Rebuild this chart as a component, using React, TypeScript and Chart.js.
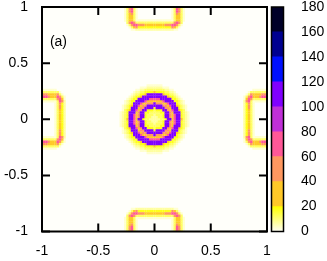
import React, { useEffect, useRef } from 'react';
import { Chart, registerables } from 'chart.js';

Chart.register(...registerables);

// ---- data ----
const STEP = 0.02; // grid spacing of the heat map cells (data units)
const xTickLabels = ['-1', '-0.5', '0', '0.5', '1'];
const yTickLabels = ['-1', '-0.5', '0', '0.5', '1'];
const cbBandEdges = [0, 20, 40, 60, 80, 100, 120, 140, 160, 180];
const cbBandColors = ['#ffff00', '#ffc828', '#ff9860', '#ff5898', '#c030d8', '#8000ff', '#0010ff', '#000090', '#000028'];
const levelChars = ['a', 'b', 'c', 'd', 'e', 'f', 'g', 'h', 'i', 'j'];
const levelValues = [3, 7, 12, 18, 30, 50, 70, 90, 110, 130];
const panelLabel = '(a)';
const panelLabelPos = [-0.93, 0.69];

// central feature, one quadrant: row j -> y = j*STEP, column i -> x = i*STEP
const centerQuadrant = [
  'bbbccdiiegiiecba.',
  'bbccdiifegiidcba.',
  'bcccdiifegiidcba.',
  'cccddiifeiiidcba.',
  'cdddiifegiiedca..',
  'diiiiffeiiidcba..',
  'iiiiffegiiedcba..',
  'ifffeegiiidcba...',
  'eeeegiiiiddcba...',
  'gggiiiiiddcba....',
  'iiiiiieddcba.....',
  'iiiieddccba......',
  'eddddccbba.......',
  'cccccbbaa........',
  'bbbbaaa..........',
  'aaaa.............',
  '.................',
];

// edge pocket, half: row k -> depth k*STEP from the frame edge, column i -> offset i*STEP along the edge
const pocketQuadrant = [
  '........acfeca..',
  '........acgfca..',
  '........acgfca..',
  '........acfeca..',
  '........aceeca..',
  '........aceeca..',
  'aaaaaaaaaceeca..',
  'cccccccccfgfc...',
  'eeeeefffggfca...',
  'ddddddddfeca....',
  'bbbbbbbbbaa.....',
  '................',
  '................',
];

const plotBg = '#fffffa';
const FONT = '"Liberation Sans", Arial, sans-serif';

function valueOf(ch: string): number {
  const idx = levelChars.indexOf(ch);
  return idx < 0 ? 0 : levelValues[idx];
}

function colorFor(v: number): string {
  if (v < 20) {
    const t = v / 20;
    const b = Math.round(245 * (1 - t));
    return `rgb(255,255,${b})`;
  }
  const band = Math.min(cbBandColors.length - 1, Math.floor(v / 20));
  return cbBandColors[band];
}

type Cell = { x: number; y: number; v: number };

function buildCells(): Cell[] {
  const cells: Cell[] = [];
  const n = centerQuadrant.length - 1;
  for (let j = -n; j <= n; j++) {
    for (let i = -n; i <= n; i++) {
      const v = valueOf(centerQuadrant[Math.abs(j)][Math.abs(i)]);
      if (v > 0) cells.push({ x: i * STEP, y: j * STEP, v });
    }
  }
  const m = pocketQuadrant[0].length - 1;
  for (let k = 0; k < pocketQuadrant.length; k++) {
    for (let i = -m; i <= m; i++) {
      const v = valueOf(pocketQuadrant[k][Math.abs(i)]);
      if (v <= 0) continue;
      const d = k * STEP;
      const o = i * STEP;
      cells.push({ x: o, y: 1 - d, v });
      cells.push({ x: o, y: -1 + d, v });
      cells.push({ x: -1 + d, y: o, v });
      cells.push({ x: 1 - d, y: o, v });
    }
  }
  cells.sort((p, q) => p.v - q.v);
  return cells;
}

function noScalePadding(s: any) {
  s.paddingTop = 0;
  s.paddingBottom = 0;
  s.paddingLeft = 0;
  s.paddingRight = 0;
}

const framePlugin = {
  id: 'frame',
  beforeDatasetsDraw(chart: any) {
    const { ctx, chartArea: a } = chart;
    ctx.save();
    ctx.fillStyle = plotBg;
    ctx.fillRect(a.left, a.top, a.right - a.left, a.bottom - a.top);
    ctx.restore();
  },
  afterDatasetsDraw(chart: any) {
    const { ctx, chartArea: a, scales } = chart;
    ctx.save();
    ctx.strokeStyle = '#000';
    ctx.lineWidth = 2;
    ctx.strokeRect(a.left, a.top, a.right - a.left, a.bottom - a.top);
    const L = 8;
    ctx.beginPath();
    scales.x.ticks.forEach((t: any) => {
      const px = scales.x.getPixelForValue(t.value);
      ctx.moveTo(px, a.bottom);
      ctx.lineTo(px, a.bottom - L);
      ctx.moveTo(px, a.top);
      ctx.lineTo(px, a.top + L);
    });
    scales.y.ticks.forEach((t: any) => {
      const py = scales.y.getPixelForValue(t.value);
      ctx.moveTo(a.left, py);
      ctx.lineTo(a.left + L, py);
      ctx.moveTo(a.right, py);
      ctx.lineTo(a.right - L, py);
    });
    ctx.stroke();
    ctx.fillStyle = '#000';
    ctx.font = `14px ${FONT}`;
    ctx.textAlign = 'left';
    ctx.textBaseline = 'middle';
    ctx.fillText(
      panelLabel,
      scales.x.getPixelForValue(panelLabelPos[0]),
      scales.y.getPixelForValue(panelLabelPos[1])
    );
    ctx.restore();
  },
};

const cbFramePlugin = {
  id: 'cbframe',
  afterDraw(chart: any) {
    const { ctx, chartArea: a } = chart;
    ctx.save();
    ctx.strokeStyle = '#000';
    ctx.lineWidth = 1.5;
    ctx.strokeRect(a.left, a.top, a.right - a.left, a.bottom - a.top);
    ctx.restore();
  },
};

export default function App() {
  const mainRef = useRef<HTMLCanvasElement>(null);
  const cbRef = useRef<HTMLCanvasElement>(null);

  useEffect(() => {
    const cells = buildCells();
    const tickFont = { family: FONT, size: 14, lineHeight: 1 };

    const main = new Chart(mainRef.current as HTMLCanvasElement, {
      type: 'scatter',
      data: {
        datasets: [
          {
            data: cells.map((c) => ({ x: c.x, y: c.y })),
            backgroundColor: cells.map((c) => colorFor(c.v)),
            pointStyle: 'rect',
            pointRadius: 1.72,
            borderWidth: 0,
            clip: 0,
          } as any,
        ],
      },
      options: {
        animation: false,
        responsive: false,
        devicePixelRatio: 1,
        events: [],
        layout: { padding: { top: 7, right: 60, left: 0, bottom: 0 } },
        plugins: { legend: { display: false }, tooltip: { enabled: false } },
        scales: {
          x: {
            type: 'linear',
            min: -1,
            max: 1,
            ticks: {
              stepSize: 0.5,
              font: tickFont,
              color: '#000',
              padding: 12.5,
              maxRotation: 0,
              callback: (_v: any, i: number) => xTickLabels[i],
            },
            grid: { display: false, drawTicks: false },
            border: { display: false },
            afterFit: (s: any) => {
              s.height = 29.5;
              noScalePadding(s);
            },
          } as any,
          y: {
            type: 'linear',
            min: -1,
            max: 1,
            ticks: {
              stepSize: 0.5,
              font: tickFont,
              color: '#000',
              padding: 14,
              callback: (_v: any, i: number) => yTickLabels[i],
            },
            grid: { display: false, drawTicks: false },
            border: { display: false },
            afterFit: (s: any) => {
              s.width = 42;
              noScalePadding(s);
            },
          } as any,
        },
      },
      plugins: [framePlugin],
    });

    const bands = cbBandColors.map((c, i) => ({
      data: [cbBandEdges[i + 1] - cbBandEdges[i]],
      backgroundColor:
        i === 0
          ? (ctx: any) => {
              const chart = ctx.chart;
              if (!chart.chartArea) return c;
              const y0 = chart.scales.y.getPixelForValue(cbBandEdges[0]);
              const y1 = chart.scales.y.getPixelForValue(cbBandEdges[1]);
              const g = chart.ctx.createLinearGradient(0, y0, 0, y1);
              g.addColorStop(0, colorFor(0));
              g.addColorStop(1, c);
              return g;
            }
          : c,
      borderWidth: 0,
      barPercentage: 1,
      categoryPercentage: 1,
    }));

    const cb = new Chart(cbRef.current as HTMLCanvasElement, {
      type: 'bar',
      data: { labels: [''], datasets: bands as any },
      options: {
        animation: false,
        responsive: false,
        devicePixelRatio: 1,
        events: [],
        layout: { padding: { top: 7, left: 9.5, right: 0, bottom: 29.5 } },
        plugins: { legend: { display: false }, tooltip: { enabled: false } },
        scales: {
          x: { display: false, stacked: true },
          y: {
            stacked: true,
            position: 'right',
            min: cbBandEdges[0],
            max: cbBandEdges[cbBandEdges.length - 1],
            z: 1,
            ticks: {
              stepSize: 20,
              font: tickFont,
              color: '#000',
              padding: 17.5,
            },
            grid: { drawTicks: false, color: '#333', lineWidth: 1 },
            border: { display: false },
            afterFit: (s: any) => {
              s.width = 43.5;
              noScalePadding(s);
            },
          } as any,
        },
      },
      plugins: [cbFramePlugin],
    });

    return () => {
      main.destroy();
      cb.destroy();
    };
  }, []);

  return (
    <div style={{ position: 'absolute', left: 0, top: 0, width: 327, height: 261, background: '#fff' }}>
      <canvas ref={mainRef} width={327} height={261} style={{ position: 'absolute', left: 0, top: 0 }} />
      <canvas ref={cbRef} width={65} height={261} style={{ position: 'absolute', left: 262, top: 0 }} />
    </div>
  );
}
